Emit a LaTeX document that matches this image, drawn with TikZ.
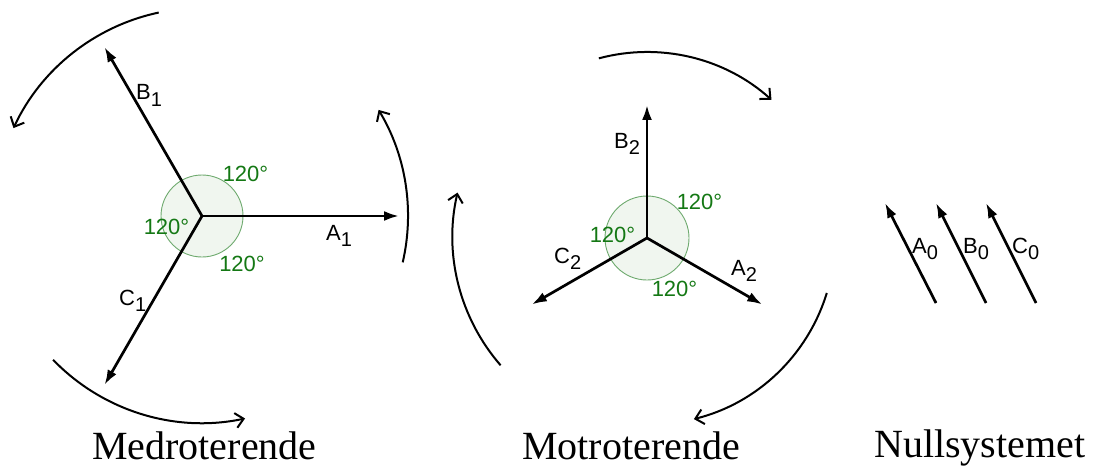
\documentclass[tikz,border=0pt]{standalone}
\usepackage{fontspec}
\setmainfont{Liberation Serif}
\newfontfamily\labfont{Liberation Sans}
\usetikzlibrary{arrows.meta}
\definecolor{anggreen}{RGB}{20,120,20}
\definecolor{angline}{RGB}{110,170,110}
\definecolor{angfill}{RGB}{240,246,239}
\tikzset{
  vec/.style={line width=2.7pt,-{Latex[length=15pt,width=10pt]}},
  rot/.style={line width=2pt,-{Straight Barb[length=8pt,width=15pt,line width=2pt]}},
  angcirc/.style={draw=angline,fill=angfill,line width=0.9pt},
  anglab/.style={font=\labfont\fontsize{22}{22}\selectfont,text=anggreen,inner sep=0pt},
  veclab/.style={font=\labfont\fontsize{22}{22}\selectfont,inner sep=0pt,anchor=base west},
  title/.style={font=\fontsize{40}{40}\selectfont,inner sep=0pt,anchor=base west}
}
\newcommand{\vlab}[2]{#1\raisebox{-6pt}{\fontsize{20}{20}\selectfont #2}}
\begin{document}
\begin{tikzpicture}[x=1pt,y=1pt]
\useasboundingbox (0,0) rectangle (1097,-468);
% ---------- Medroterende ----------
\coordinate (O1) at (202,-216);
\draw[angcirc] (O1) circle[radius=41];
\coordinate (A1t) at ([shift={(0:197)}]O1);
\coordinate (B1t) at ([shift={(120:195)}]O1);
\coordinate (C1t) at ([shift={(240:195)}]O1);
\draw[vec] (O1) -- (A1t);
\draw[vec] (O1) -- (B1t);
\draw[vec] (O1) -- (C1t);
\node[veclab] (lA1) at (326,-240) {\vlab{A}{1}};
\node[veclab] (lB1) at (136,-100) {\vlab{B}{1}};
\node[veclab] (lC1) at (119,-305) {\vlab{C}{1}};
\node[anglab] (g11) at (245.5,-174) {120°};
\node[anglab] (g12) at (166.5,-226.5) {120°};
\node[anglab] (g13) at (242,-263.5) {120°};
\draw[rot] ([shift={(102:208)}]O1) arc[start angle=102,end angle=155,radius=208];
\draw[rot] ([shift={(-13:206)}]O1) arc[start angle=-13,end angle=31,radius=206];
\draw[rot] ([shift={(224:207)}]O1) arc[start angle=224,end angle=282,radius=207];
% ---------- Motroterende ----------
\coordinate (O2) at (647,-238);
\draw[angcirc] (O2) circle[radius=42];
\coordinate (A2t) at ([shift={(-30:133)}]O2);
\coordinate (B2t) at ([shift={(90:133)}]O2);
\coordinate (C2t) at ([shift={(210:133)}]O2);
\draw[vec] (O2) -- (A2t);
\draw[vec] (O2) -- (B2t);
\draw[vec] (O2) -- (C2t);
\node[veclab] (lA2) at (731,-275) {\vlab{A}{2}};
\node[veclab] (lB2) at (614,-148) {\vlab{B}{2}};
\node[veclab] (lC2) at (554,-263) {\vlab{C}{2}};
\node[anglab] (g21) at (699.5,-202) {120°};
\node[anglab] (g22) at (612.5,-235) {120°};
\node[anglab] (g23) at (674.5,-289) {120°};
\draw[rot] ([shift={(105:186)}]O2) arc[start angle=105,end angle=48,radius=186];
\draw[rot] ([shift={(-17:188)}]O2) arc[start angle=-17,end angle=-76,radius=186];
\draw[rot] ([shift={(221:194)}]O2) arc[start angle=221,end angle=167,radius=196];
% ---------- Nullsystemet ----------
\coordinate (A0s) at (936,-303); \coordinate (A0t) at (885,-203);
\coordinate (B0s) at (986,-303); \coordinate (B0t) at (936,-203);
\coordinate (C0s) at (1036,-303); \coordinate (C0t) at (986,-203);
\draw[vec] (A0s) -- (A0t);
\draw[vec] (B0s) -- (B0t);
\draw[vec] (C0s) -- (C0t);
\node[veclab] (lA0) at (912,-253) {\vlab{A}{0}};
\node[veclab] (lB0) at (963,-253) {\vlab{B}{0}};
\node[veclab] (lC0) at (1012,-253) {\vlab{C}{0}};
% ---------- titles ----------
\node[title] (t1) at (92,-459) {Medroterende};
\node[title] (t2) at (522,-459) {Motroterende};
\node[title] (t3) at (874,-457) {Nullsystemet};
\end{tikzpicture}
\end{document}
